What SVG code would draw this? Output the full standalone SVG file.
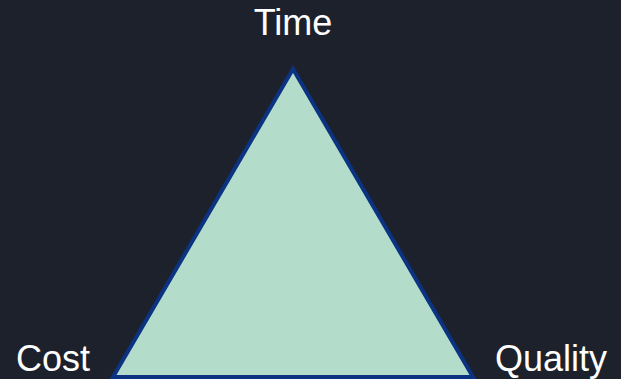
<svg xmlns="http://www.w3.org/2000/svg" width="621" height="379" viewBox="0 0 621 379">
<style>
.lbl{font-family:"Liberation Sans",Arial,sans-serif;font-size:36px;fill:#ffffff}
.tri{fill:#b3dcca;stroke:#0b3382;stroke-width:4;stroke-linejoin:miter}
</style>
<rect width="621" height="379" fill="#1c212c"/>
<g id="triangle"><polygon class="tri" points="293,69 113,377 473,377"/></g>
<g id="time"><text class="lbl" x="293" y="35" text-anchor="middle">Time</text></g>
<g id="cost"><text class="lbl" x="16" y="371">Cost</text></g>
<g id="quality"><text class="lbl" x="495" y="371">Quality</text></g>
<g id="connectors"/>
</svg>
